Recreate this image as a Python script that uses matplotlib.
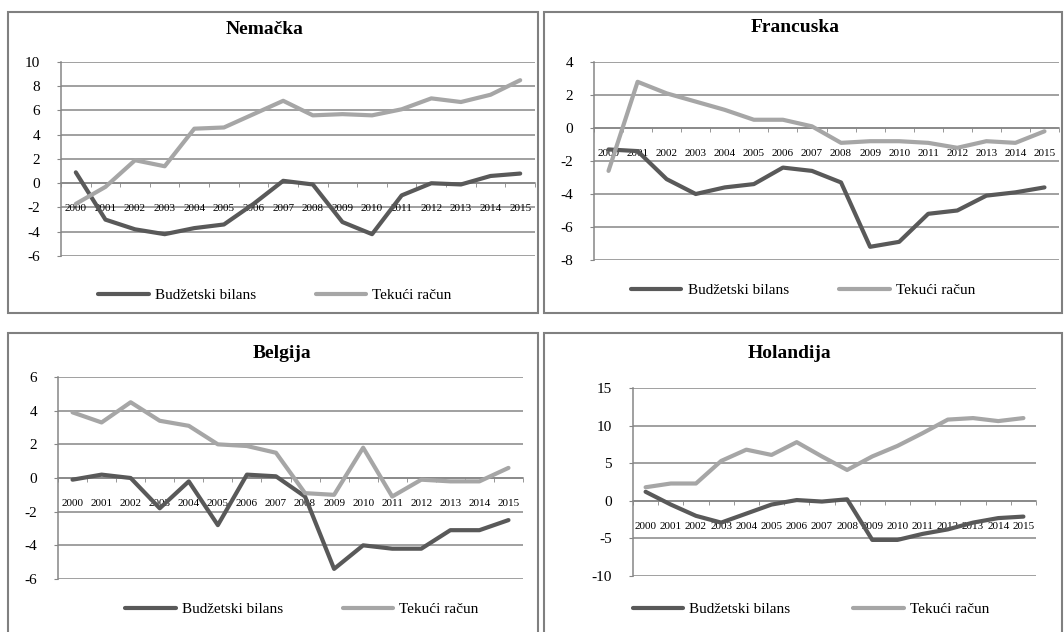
import matplotlib
matplotlib.use("Agg")
import matplotlib.pyplot as plt
from matplotlib.patches import Rectangle

plt.rcParams['font.family'] = ['Liberation Serif', 'DejaVu Serif']

godine = ["2000", "2001", "2002", "2003", "2004", "2005", "2006", "2007",
          "2008", "2009", "2010", "2011", "2012", "2013", "2014", "2015"]

# Nemačka
nemacka_budzet = [0.9, -3.0, -3.8, -4.2, -3.7, -3.4, -1.7, 0.2, -0.1, -3.2, -4.2, -1.0, 0.0, -0.1, 0.6, 0.8]
nemacka_tekuci = [-1.7, -0.3, 1.9, 1.4, 4.5, 4.6, 5.7, 6.8, 5.6, 5.7, 5.6, 6.1, 7.0, 6.7, 7.3, 8.5]
# Francuska
francuska_budzet = [-1.3, -1.4, -3.1, -4.0, -3.6, -3.4, -2.4, -2.6, -3.3, -7.2, -6.9, -5.2, -5.0, -4.1, -3.9, -3.6]
francuska_tekuci = [-2.6, 2.8, 2.1, 1.6, 1.1, 0.5, 0.5, 0.1, -0.9, -0.8, -0.8, -0.9, -1.2, -0.8, -0.9, -0.2]
# Belgija
belgija_budzet = [-0.1, 0.2, 0.0, -1.8, -0.2, -2.8, 0.2, 0.1, -1.1, -5.4, -4.0, -4.2, -4.2, -3.1, -3.1, -2.5]
belgija_tekuci = [3.9, 3.3, 4.5, 3.4, 3.1, 2.0, 1.9, 1.5, -0.9, -1.0, 1.8, -1.1, -0.1, -0.2, -0.2, 0.6]
# Holandija
holandija_budzet = [1.2, -0.5, -2.0, -2.9, -1.7, -0.5, 0.1, -0.1, 0.2, -5.2, -5.2, -4.4, -3.8, -2.9, -2.3, -2.1]
holandija_tekuci = [1.8, 2.3, 2.3, 5.3, 6.8, 6.1, 7.8, 5.9, 4.1, 5.9, 7.3, 9.0, 10.8, 11.0, 10.6, 11.0]

W, H = 1064, 632
TAMNA = '#595959'
SVETLA = '#a6a6a6'
SIVA = '#868686'

fig = plt.figure(figsize=(W / 100, H / 100), dpi=100)


def px_rect(left, top, right, bottom):
    return [left / W, 1 - bottom / H, (right - left) / W, (bottom - top) / H]


def crtaj_panel(okvir, osa, naslov, naslov_xy, budzet, tekuci, ymin, ymax, korak,
                legenda_xy, razmak):
    # okvir panela
    l, t, r, b = okvir
    fig.add_artist(Rectangle((l / W, 1 - b / H), (r - l) / W, (b - t) / H,
                             transform=fig.transFigure, fill=False,
                             edgecolor='#808080', lw=1.5))
    fig.text(naslov_xy[0] / W, 1 - naslov_xy[1] / H, naslov, ha='center', va='center',
             fontsize=14, fontweight='bold')

    ax = fig.add_axes(px_rect(*osa))
    x = list(range(len(godine)))
    ax.plot(x, budzet, color=TAMNA, lw=3, solid_capstyle='round', solid_joinstyle='round',
            label='Budžetski bilans', zorder=3)
    ax.plot(x, tekuci, color=SVETLA, lw=3, solid_capstyle='round', solid_joinstyle='round',
            label='Tekući račun', zorder=3)

    ax.set_xlim(-0.5, len(godine) - 0.5)
    ax.set_ylim(ymin, ymax)
    yt = list(range(ymin, ymax + 1, korak))
    ax.set_yticks(yt)
    ax.set_yticklabels([str(v) for v in yt])
    for v in yt:
        ax.axhline(v, color=SIVA, lw=1.1, zorder=1)

    for s in ['top', 'right']:
        ax.spines[s].set_visible(False)
    ax.spines['left'].set_color(SIVA)
    ax.spines['left'].set_linewidth(1.1)
    ax.spines['bottom'].set_position(('data', 0))
    ax.spines['bottom'].set_color(SIVA)
    ax.spines['bottom'].set_linewidth(1.1)

    ax.set_xticks(x)
    ax.set_xticklabels(godine)
    ax.set_xticks([i - 0.5 for i in range(len(godine) + 1)], minor=True)
    ax.tick_params(axis='x', which='major', length=0, pad=15, labelsize=8)
    ax.tick_params(axis='x', which='minor', length=3, color=SIVA, direction='out')
    ax.tick_params(axis='y', length=3, color=SIVA, pad=12, labelsize=11)
    ax.set_facecolor('none')

    ax.legend(loc='center', bbox_to_anchor=(legenda_xy[0] / W, 1 - legenda_xy[1] / H),
              bbox_transform=fig.transFigure, ncol=2, frameon=False, fontsize=11,
              handlelength=3.3, handletextpad=0.4, columnspacing=razmak)
    return ax


crtaj_panel((8, 12, 538, 313), (61, 62, 535, 256), 'Nemačka', (265, 30),
            nemacka_budzet, nemacka_tekuci, -6, 10, 2, (275, 295), 3.9)
crtaj_panel((544, 12, 1062, 313), (594, 62, 1059, 260), 'Francuska', (795, 28),
            francuska_budzet, francuska_tekuci, -8, 4, 2, (803, 290), 3.3)
crtaj_panel((8, 333, 538, 640), (58, 377, 523, 579), 'Belgija', (282, 354),
            belgija_budzet, belgija_tekuci, -6, 6, 2, (302, 609), 3.9)
crtaj_panel((544, 333, 1062, 640), (633, 388, 1036, 576), 'Holandija', (789, 353),
            holandija_budzet, holandija_tekuci, -10, 15, 5, (811, 609), 4.1)

fig.savefig('out.png', dpi=100, facecolor='white')
